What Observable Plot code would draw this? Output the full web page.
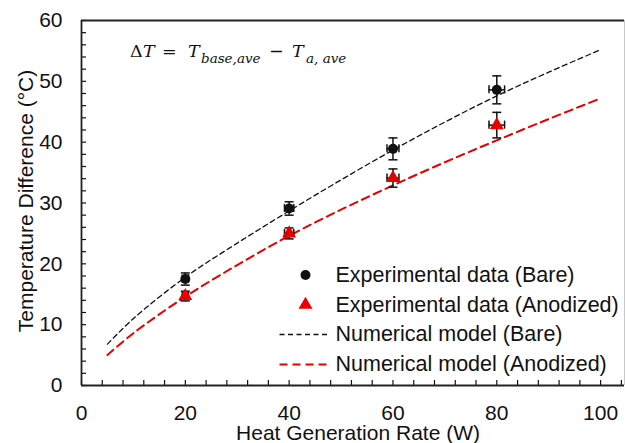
<!DOCTYPE html>
<html><head><meta charset="utf-8">
<script src="https://cdn.jsdelivr.net/npm/d3@7"></script>
<script src="https://cdn.jsdelivr.net/npm/@observablehq/plot@0.6"></script>
<style>body{margin:0;background:#fff}</style>
</head><body><div id="chart"></div>
<script>
// ---- data ----
const powerW = [20, 40, 60, 80];
const bareExp = [17.5, 29.1, 38.9, 48.6];
const bareErrY = [1.0, 1.1, 1.8, 2.3];
const anodExp = [14.7, 25.0, 34.1, 42.8];
const anodErrY = [0.8, 0.9, 1.5, 2.1];
const errX = [0.6, 0.9, 1.15, 1.5];
const modelW = [5, 10, 20, 30, 40, 50, 60, 70, 80, 90, 100];
const bareModel = [6.8, 11.0, 17.8, 23.4, 28.7, 33.8, 38.7, 43.3, 47.6, 51.5, 55.2];
const anodModel = [5.0, 8.6, 14.6, 19.8, 24.6, 28.9, 32.9, 36.7, 40.3, 43.8, 47.2];
const xDomain = [0, 104.6];
const yDomain = [0, 60];
const xTickLabels = [0, 20, 40, 60, 80, 100];
const yTickLabels = [0, 10, 20, 30, 40, 50, 60];
const xMinorTicks = d3.range(0, 105, 4);
const yMinorTicks = d3.range(0, 61, 2);
const legendLabels = ["Experimental data (Bare)", "Experimental data (Anodized)", "Numerical model (Bare)", "Numerical model (Anodized)"];
const xLabel = "Heat Generation Rate (W)";
const yLabel = "Temperature Difference (°C)";

// ---- layout ----
const W = 625, H = 443, mL = 81, mT = 20, mR = 1, mB = 58;
const plotW = W - mL - mR, plotH = H - mT - mB;
const RED = "#e60000", INK = "#111";

const bare = powerW.map((x, i) => ({x, y: bareExp[i], ey: bareErrY[i], ex: errX[i]}));
const anod = powerW.map((x, i) => ({x, y: anodExp[i], ey: anodErrY[i], ex: errX[i]}));
const bareM = modelW.map((x, i) => ({x, y: bareModel[i]}));
const anodM = modelW.map((x, i) => ({x, y: anodModel[i]}));

const capW = 0.87, capH = 0.66; // cap half-sizes (style)
function errorMarks(data) {
  const s = {stroke: INK, strokeWidth: 1.5};
  return [
    Plot.ruleX(data, {x: "x", y1: d => d.y - d.ey, y2: d => d.y + d.ey, ...s}),
    Plot.link(data, {x1: d => d.x - capW, x2: d => d.x + capW, y1: d => d.y + d.ey, y2: d => d.y + d.ey, ...s}),
    Plot.link(data, {x1: d => d.x - capW, x2: d => d.x + capW, y1: d => d.y - d.ey, y2: d => d.y - d.ey, ...s}),
    Plot.ruleY(data, {y: "y", x1: d => d.x - d.ex, x2: d => d.x + d.ex, ...s}),
    Plot.ruleX(data, {x: d => d.x - d.ex, y1: d => d.y - capH, y2: d => d.y + capH, ...s}),
    Plot.ruleX(data, {x: d => d.x + d.ex, y1: d => d.y - capH, y2: d => d.y + capH, ...s})
  ];
}

const lineSym = {draw(ctx) { ctx.moveTo(-24, 0); ctx.lineTo(24, 0); }};
const rowY = [274.5, 304.3, 334, 364];
const legendMarks = [];
const styles = [
  {symbol: "circle", r: 5, fill: INK, stroke: "none"},
  {symbol: "triangle", r: 5.2, fill: RED, stroke: "none"},
  {symbol: lineSym, r: 5, fill: "none", stroke: INK, strokeWidth: 1.3, strokeDasharray: "5,3.5"},
  {symbol: lineSym, r: 5, fill: "none", stroke: RED, strokeWidth: 2, strokeDasharray: "8,5"}
];
legendLabels.forEach((lab, i) => {
  legendMarks.push(Plot.dot([lab], {frameAnchor: "top-left", dx: i < 2 ? 224 : 222, dy: rowY[i] - mT, ...styles[i]}));
  legendMarks.push(Plot.text([lab], {frameAnchor: "top-left", dx: 254, dy: rowY[i] - mT, text: d => d, textAnchor: "start", lineAnchor: "middle", fontSize: 21.5, fill: INK}));
});

const plot = Plot.plot({
  width: W, height: H,
  marginLeft: mL, marginTop: mT, marginRight: mR, marginBottom: mB,
  style: {fontFamily: "'Liberation Sans', Arial, sans-serif", color: INK, background: "white"},
  x: {domain: xDomain, label: null},
  y: {domain: yDomain, label: null},
  marks: [
    Plot.tickX(xMinorTicks, {x: d => d, insetTop: plotH - 5, stroke: INK, strokeWidth: 1.2}),
    Plot.tickY(yMinorTicks, {y: d => d, insetRight: plotW - 5, stroke: INK, strokeWidth: 1.2}),
    Plot.axisX(xTickLabels, {tickSize: 0, tickPadding: 19.5, fontSize: 21, label: null, fill: INK}),
    Plot.axisY(yTickLabels, {tickSize: 0, tickPadding: 19, fontSize: 21, label: null, fill: INK}),
    Plot.line(bareM, {x: "x", y: "y", stroke: INK, strokeWidth: 1.3, strokeDasharray: "5,3.5", curve: "catmull-rom"}),
    Plot.line(anodM, {x: "x", y: "y", stroke: RED, strokeWidth: 2, strokeDasharray: "8,5", curve: "catmull-rom"}),
    ...errorMarks(bare),
    ...errorMarks(anod),
    Plot.dot(bare, {x: "x", y: "y", r: 5, fill: INK, symbol: "circle"}),
    Plot.dot(anod, {x: "x", y: "y", r: 5.2, fill: RED, symbol: "triangle"}),
    Plot.ruleX([xDomain[1]], {stroke: "#c8c8c8", strokeWidth: 1}),
    Plot.ruleY(yDomain, {stroke: "#222", strokeWidth: 1.8}),
    Plot.ruleX([xDomain[0]], {stroke: "#222", strokeWidth: 1.8}),
    Plot.text([xLabel], {frameAnchor: "bottom", dx: 5, dy: 47.5, text: d => d, fontSize: 21, lineAnchor: "middle", fill: INK}),
    Plot.text([yLabel], {frameAnchor: "left", dx: -55, dy: -2, rotate: -90, text: d => d, fontSize: 21, lineAnchor: "middle", textAnchor: "middle", fill: INK}),
    ...legendMarks
  ]
});
document.getElementById("chart").append(plot);

// formula annotation
const svg = d3.select(plot);
const f = svg.append("text").attr("text-anchor", "start")
  .attr("font-family", "'DejaVu Serif', 'Liberation Serif', serif").attr("fill", INK).attr("font-size", 17);
const parts = [
  {t: "Δ", x: 130, it: false},
  {t: "T", x: 143, it: true},
  {t: "=", x: 162, it: false},
  {t: "T", x: 188, it: true},
  {t: "base,ave", x: 201, it: true, sub: true},
  {t: "−", x: 269, it: false},
  {t: "T", x: 292, it: true},
  {t: "a, ave", x: 306, it: true, sub: true}
];
parts.forEach(p => {
  f.append("tspan").attr("x", p.x).attr("y", p.sub ? 63 : 57)
    .attr("font-style", p.it ? "italic" : "normal")
    .attr("font-size", p.sub ? 13.5 : 17.5)
    .text(p.t);
});
</script>
</body></html>
